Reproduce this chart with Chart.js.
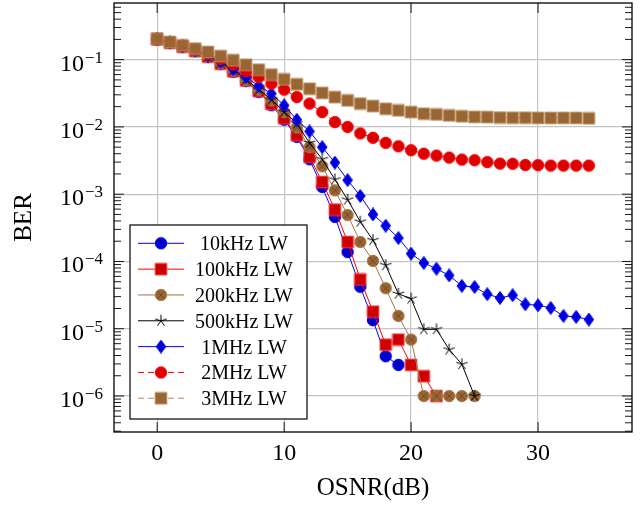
<!DOCTYPE html>
<html>
<head>
<meta charset="utf-8">
<script src="https://cdn.jsdelivr.net/npm/chart.js@4.4.1/dist/chart.umd.min.js"></script>
<style>
  html, body { margin: 0; padding: 0; background: #fff; }
  #wrap { width: 642px; height: 506px; }
</style>
</head>
<body>
<div id="wrap"><canvas id="berChart"></canvas></div>
<script>
// OSNR axis (dB) and BER curves per laser linewidth
const osnr = [0, 1, 2, 3, 4, 5, 6, 7, 8, 9, 10, 11, 12, 13, 14, 15, 16, 17, 18, 19, 20,
              21, 22, 23, 24, 25, 26, 27, 28, 29, 30, 31, 32, 33, 34];

const ber10k = [0.200, 0.178, 0.155, 0.133, 0.110, 0.086, 0.066, 0.048, 0.033, 0.021, 0.0128,
                0.0071, 0.0033, 1.28e-3, 4.6e-4, 1.38e-4, 4.2e-5, 1.34e-5, 3.9e-6, 2.9e-6];
const ber100k = [0.200, 0.178, 0.156, 0.134, 0.111, 0.087, 0.067, 0.049, 0.034, 0.022, 0.0134,
                 0.0075, 0.0036, 1.52e-3, 5.9e-4, 1.95e-4, 5.4e-5, 1.8e-5, 5.8e-6, 6.9e-6, 2.9e-6,
                 1.97e-6, 1e-6];
const ber200k = [0.200, 0.178, 0.156, 0.135, 0.112, 0.089, 0.069, 0.050, 0.0358, 0.0248, 0.0166,
                 0.0098, 0.0050, 0.0026, 1.14e-3, 4.9e-4, 1.95e-4, 1.02e-4, 4.0e-5, 1.55e-5, 6.9e-6,
                 1e-6, 1e-6, 1e-6, 1e-6, 1e-6];
const ber500k = [0.200, 0.178, 0.156, 0.135, 0.112, 0.090, 0.070, 0.051, 0.036, 0.0255, 0.0168,
                 0.0112, 0.0058, 0.0033, 1.65e-3, 8.3e-4, 3.9e-4, 2.07e-4, 8.8e-5, 3.3e-5, 2.8e-5,
                 9.8e-6, 9.8e-6, 4.9e-6, 2.96e-6, 1e-6];
const ber1M = [0.200, 0.180, 0.158, 0.137, 0.115, 0.093, 0.072, 0.055, 0.0406, 0.0313, 0.0209,
               0.0128, 0.0086, 0.0050, 0.00295, 0.00162, 9.4e-4, 5.0e-4, 3.4e-4, 2.23e-4, 1.31e-4,
               9.5e-5, 7.8e-5, 6.2e-5, 4.33e-5, 4.18e-5, 3.26e-5, 2.87e-5, 3.15e-5, 2.31e-5, 2.23e-5,
               2.04e-5, 1.55e-5, 1.5e-5, 1.37e-5];
const ber2M = [0.200, 0.181, 0.161, 0.142, 0.122, 0.103, 0.085, 0.068, 0.055, 0.044, 0.0358,
               0.0278, 0.0222, 0.0166, 0.0118, 0.0100, 0.0080, 0.0069, 0.0058, 0.00515, 0.0045,
               0.0040, 0.00375, 0.0035, 0.00327, 0.0032, 0.0030, 0.00285, 0.00283, 0.00272, 0.0027,
               0.00266, 0.00266, 0.00266, 0.00266];
const ber3M = [0.206, 0.183, 0.163, 0.146, 0.130, 0.113, 0.098, 0.084, 0.071, 0.060, 0.051,
               0.043, 0.037, 0.032, 0.0277, 0.0247, 0.0222, 0.0204, 0.0186, 0.0176, 0.0166,
               0.0157, 0.0153, 0.0148, 0.0144, 0.0141, 0.0140, 0.0138, 0.0137, 0.0137, 0.0136,
               0.0136, 0.0136, 0.0136, 0.0134];

const seriesNames = ['10kHz LW', '100kHz LW', '200kHz LW', '500kHz LW', '1MHz LW', '2MHz LW', '3MHz LW'];
const xTicks = [0, 10, 20, 30];
const yTickExp = [-1, -2, -3, -4, -5, -6];

const FONT = '"Liberation Serif", "Times New Roman", serif';

// little canvases used as point styles (pgfplots-like marks)
function makeMark(kind, fill, edge) {
    const c = document.createElement('canvas');
    c.width = 14; c.height = 14;
    const g = c.getContext('2d');
    const m = 7;
    g.fillStyle = fill;
    g.strokeStyle = edge;
    g.lineWidth = 1;
    g.beginPath();
    if (kind === 'circle') {
        g.arc(m, m, 5.7, 0, Math.PI * 2);
        g.fill(); g.stroke();
    } else if (kind === 'square') {
        g.rect(m - 5.8, m - 5.8, 11.6, 11.6);
        g.fill(); g.stroke();
    } else if (kind === 'diamond') {
        g.moveTo(m, m - 6.5); g.lineTo(m + 4.8, m); g.lineTo(m, m + 6.5); g.lineTo(m - 4.8, m);
        g.closePath();
        g.fill(); g.stroke();
    } else if (kind === 'otimes') {
        g.arc(m, m, 5.7, 0, Math.PI * 2);
        g.fill(); g.stroke();
        g.beginPath();
        g.strokeStyle = '#6b4423';
        g.lineWidth = 0.8;
        const d = 3.9;
        g.moveTo(m - d, m - d); g.lineTo(m + d, m + d);
        g.moveTo(m - d, m + d); g.lineTo(m + d, m - d);
        g.stroke();
    } else if (kind === 'star') {
        for (let k = 0; k < 5; k++) {
            const ang = -Math.PI / 2 + k * 2 * Math.PI / 5;
            g.moveTo(m, m);
            g.lineTo(m + 6 * Math.cos(ang), m + 6 * Math.sin(ang));
        }
        g.stroke();
    }
    return c;
}

const styles = [
    { line: '#0000ff', mark: makeMark('circle', '#0000cc', '#0000ff'), dash: [] },
    { line: '#ff0000', mark: makeMark('square', '#cc0000', '#ff3333'), dash: [] },
    { line: '#a47446', mark: makeMark('otimes', '#996633', '#a87a4c'), dash: [] },
    { line: '#000000', mark: makeMark('star', '#000000', '#000000'), dash: [] },
    { line: '#0000ff', mark: makeMark('diamond', '#0000dd', '#0000ff'), dash: [] },
    { line: '#ff0000', mark: makeMark('circle', '#dd0000', '#ff0000'), dash: [6, 4] },
    { line: '#bf8a5a', mark: makeMark('square', '#996633', '#b88a5a'), dash: [6, 4] }
];

const allSeries = [ber10k, ber100k, ber200k, ber500k, ber1M, ber2M, ber3M];

const datasets = allSeries.map((vals, i) => ({
    label: seriesNames[i],
    data: vals.map((v, j) => ({ x: osnr[j], y: v })),
    borderColor: styles[i].line,
    borderWidth: 1,
    borderDash: styles[i].dash,
    pointStyle: styles[i].mark,
    pointRadius: 6,
    fill: false,
    tension: 0,
    order: 6 - i
}));

const decor = {
    id: 'decor',
    afterDatasetsDraw(chart) {
        const { ctx, chartArea: a, scales: { x, y } } = chart;
        ctx.save();
        ctx.strokeStyle = '#000';
        ctx.lineWidth = 0.9;
        ctx.beginPath();
        // minor ticks on the log axis
        for (let d = -7; d <= 0; d++) {
            for (let m = 2; m <= 9; m++) {
                const v = m * Math.pow(10, d);
                if (v < y.min || v > y.max) continue;
                const py = y.getPixelForValue(v);
                ctx.moveTo(a.left, py); ctx.lineTo(a.left + 7, py);
                ctx.moveTo(a.right, py); ctx.lineTo(a.right - 7, py);
            }
        }
        yTickExp.forEach(k => {
            const py = y.getPixelForValue(Math.pow(10, k));
            ctx.moveTo(a.left, py); ctx.lineTo(a.left + 10, py);
            ctx.moveTo(a.right, py); ctx.lineTo(a.right - 10, py);
        });
        xTicks.forEach(t => {
            const px = x.getPixelForValue(t);
            ctx.moveTo(px, a.bottom); ctx.lineTo(px, a.bottom - 10);
            ctx.moveTo(px, a.top); ctx.lineTo(px, a.top + 10);
        });
        ctx.stroke();
        ctx.lineWidth = 1.3;
        ctx.strokeRect(a.left, a.top, a.right - a.left, a.bottom - a.top);
        ctx.restore();
    },
    afterDraw(chart) {
        const { ctx, chartArea: a, scales: { x, y } } = chart;
        ctx.save();
        ctx.fillStyle = '#000';

        // y tick labels 10^-k
        yTickExp.forEach(k => {
            const py = y.getPixelForValue(Math.pow(10, k));
            ctx.textAlign = 'right';
            ctx.textBaseline = 'alphabetic';
            ctx.font = '17px ' + FONT;
            const sup = '\u2212' + Math.abs(k);
            const sw = ctx.measureText(sup).width;
            ctx.fillText(sup, 103, py + 3);
            ctx.font = '24px ' + FONT;
            ctx.fillText('10', 103 - sw - 1, py + 11);
        });

        // x tick labels
        ctx.font = '24px ' + FONT;
        ctx.textAlign = 'center';
        xTicks.forEach(t => {
            ctx.fillText(String(t), x.getPixelForValue(t), 460);
        });

        // axis titles
        ctx.font = '25px ' + FONT;
        ctx.fillText('OSNR(dB)', (a.left + a.right) / 2, 495);
        ctx.save();
        ctx.translate(31, (a.top + a.bottom) / 2);
        ctx.rotate(-Math.PI / 2);
        ctx.fillText('BER', 0, 0);
        ctx.restore();

        // legend box
        const lx = 130, ly = 225, lw = 177, lh = 194;
        ctx.fillStyle = '#fff';
        ctx.fillRect(lx, ly, lw, lh);
        ctx.strokeStyle = '#000';
        ctx.lineWidth = 1.2;
        ctx.strokeRect(lx, ly, lw, lh);
        ctx.font = '20px ' + FONT;
        ctx.textAlign = 'center';
        seriesNames.forEach((name, i) => {
            const ry = 243.3 + i * 25.83;
            ctx.beginPath();
            ctx.strokeStyle = styles[i].line;
            ctx.lineWidth = 1;
            ctx.setLineDash(styles[i].dash);
            ctx.moveTo(138, ry); ctx.lineTo(184, ry);
            ctx.stroke();
            ctx.setLineDash([]);
            ctx.drawImage(styles[i].mark, 161 - 7, ry - 7);
            ctx.fillStyle = '#000';
            ctx.fillText(name, 244, ry + 7);
        });
        ctx.restore();
    }
};

new Chart(document.getElementById('berChart'), {
    type: 'line',
    data: { datasets: datasets },
    options: {
        responsive: true,
        maintainAspectRatio: false,
        animation: false,
        layout: { autoPadding: false, padding: { top: 3, right: 10, left: 0, bottom: 0 } },
        plugins: {
            legend: { display: false },
            tooltip: { enabled: false }
        },
        scales: {
            x: {
                type: 'linear',
                min: -3.4,
                max: 37.4,
                afterBuildTicks: s => { s.ticks = xTicks.map(v => ({ value: v })); },
                afterFit: s => { s.height = 74; },
                ticks: { display: false },
                grid: { color: '#c4c4c4', lineWidth: 1.2, drawTicks: false },
                border: { display: false }
            },
            y: {
                type: 'logarithmic',
                min: Math.pow(10, -6.535),
                max: Math.pow(10, -0.158),
                afterBuildTicks: s => { s.ticks = yTickExp.map(k => ({ value: Math.pow(10, k) })); },
                afterFit: s => { s.width = 114; },
                ticks: { display: false },
                grid: { color: '#c4c4c4', lineWidth: 1.2, drawTicks: false },
                border: { display: false }
            }
        }
    },
    plugins: [decor]
});
</script>
</body>
</html>
